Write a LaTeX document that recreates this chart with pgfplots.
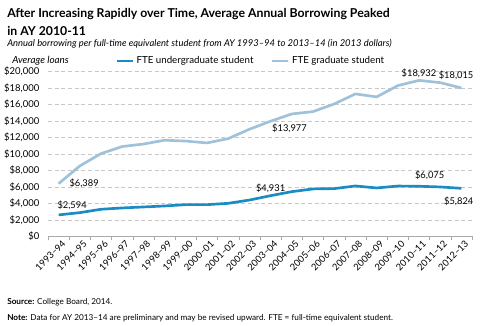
\documentclass[border=0pt]{standalone}
\usepackage{fontspec}
\setmainfont{Lato}
\usepackage{pgfplots}
\pgfplotsset{compat=1.18}
\definecolor{ugblue}{RGB}{27,139,196}
\definecolor{grblue}{RGB}{159,194,218}
\definecolor{axgray}{RGB}{170,170,170}
\definecolor{gridgray}{RGB}{200,200,200}
\begin{document}
\begin{tikzpicture}
\path[use as bounding box] (0,0) rectangle (366pt,-243.75pt);
\begin{scope}[x=0.75pt,y=-0.75pt]
\node[anchor=base west,inner sep=0pt,font=\fontsize{9.2}{11}\selectfont\bfseries] at (7,17) {After Increasing Rapidly over Time, Average Annual Borrowing Peaked};
\node[anchor=base west,inner sep=0pt,font=\fontsize{9.2}{11}\selectfont\bfseries] at (7,35) {in AY 2010-11};
\node[anchor=base west,inner sep=0pt,font=\fontsize{7.05}{9}\selectfont\itshape] at (7,46) {Annual borrowing per full-time equivalent student from AY 1993–94 to 2013–14 (in 2013 dollars)};
\node[anchor=base west,inner sep=0pt,font=\fontsize{7.4}{8}\selectfont\itshape] at (12,63) {Average loans};
\node[anchor=base west,inner sep=0pt,font=\fontsize{6.15}{7}\selectfont] at (7,304) {\textbf{Source:} College Board, 2014.};
\node[anchor=base west,inner sep=0pt,font=\fontsize{6.15}{7}\selectfont] at (7,320) {\textbf{Note:} Data for AY 2013–14 are preliminary and may be revised upward. FTE = full-time equivalent student.};
\end{scope}
\begin{axis}[
  at={(36pt,-177.2pt)}, anchor=south west,
  scale only axis, width=318pt, height=123.5pt,
  clip=false,
  xmin=-0.5, xmax=19.5, ymin=0, ymax=20000,
  scaled y ticks=false,
  axis x line=bottom, axis y line=left,
  x axis line style={draw=axgray,-},
  y axis line style={draw=none},
  xtick={-0.5,0.5,...,19.5},
  x tick label as interval,
  xticklabels={1993–94,1994–95,1995–96,1996–97,1997–98,1998–99,1999–00,2000–01,2001–02,2002–03,2003–04,2004–05,2005–06,2006–07,2007–08,2008–09,2009–10,2010–11,2011–12,2012–13},
  x tick label style={rotate=45,anchor=north east,font=\fontsize{7}{8}\selectfont,inner sep=1pt,xshift=3pt,yshift=0pt},
  xtick style={draw=axgray},
  tick align=outside, major tick length=3pt,
  ytick={0,2000,...,20000},
  yticklabels={\$0,{\$2,000},{\$4,000},{\$6,000},{\$8,000},{\$10,000},{\$12,000},{\$14,000},{\$16,000},{\$18,000},{\$20,000}},
  y tick label style={font=\fontsize{7.1}{8}\selectfont},
  ytick style={draw=none},
  ymajorgrids, grid style={gridgray,densely dashed,line width=0.4pt},
  legend columns=2,
  legend style={draw=none,fill=none,at={(0.158,1.065)},anchor=west,font=\fontsize{7.3}{8}\selectfont,inner sep=0pt,/tikz/every even column/.append style={column sep=11pt}},
  legend image code/.code={\draw[#1,line width=2pt] (0,0) -- (0.42cm,0);},
]
\addplot[ugblue,line width=2pt] coordinates {
(0,2594) (1,2870) (2,3280) (3,3440) (4,3560) (5,3680) (6,3840) (7,3840) (8,4000) (9,4400)
(10,4931) (11,5420) (12,5750) (13,5790) (14,6110) (15,5870) (16,6100) (17,6075) (18,5990) (19,5824)};
\addlegendentry{FTE undergraduate student}
\addplot[grblue,line width=2pt] coordinates {
(0,6389) (1,8540) (2,10040) (3,10900) (4,11200) (5,11670) (6,11560) (7,11340) (8,11860) (9,13000)
(10,13977) (11,14860) (12,15140) (13,16070) (14,17290) (15,16930) (16,18300) (17,18932) (18,18660) (19,18015)};
\addlegendentry{FTE graduate student}
\begin{scope}[every node/.style={font=\fontsize{7}{8}\selectfont,inner sep=1pt}]
\node[anchor=west,xshift=7pt] at (axis cs:0,6389) {\$6,389};
\node[anchor=south west,xshift=-2pt,yshift=3pt] at (axis cs:0,2594) {\$2,594};
\node[anchor=south,yshift=1pt] at (axis cs:10,4931) {\$4,931};
\node[anchor=north west,xshift=0pt,yshift=-1pt] at (axis cs:10,13977) {\$13,977};
\node[anchor=south,yshift=1pt] at (axis cs:17,18932) {\$18,932};
\node[anchor=south,xshift=-4pt,yshift=5pt] at (axis cs:19,18015) {\$18,015};
\node[anchor=south,xshift=8pt,yshift=4pt] at (axis cs:17,6075) {\$6,075};
\node[anchor=north,xshift=-2pt,yshift=-5pt] at (axis cs:19,5824) {\$5,824};
\end{scope}
\end{axis}
\end{tikzpicture}
\end{document}
